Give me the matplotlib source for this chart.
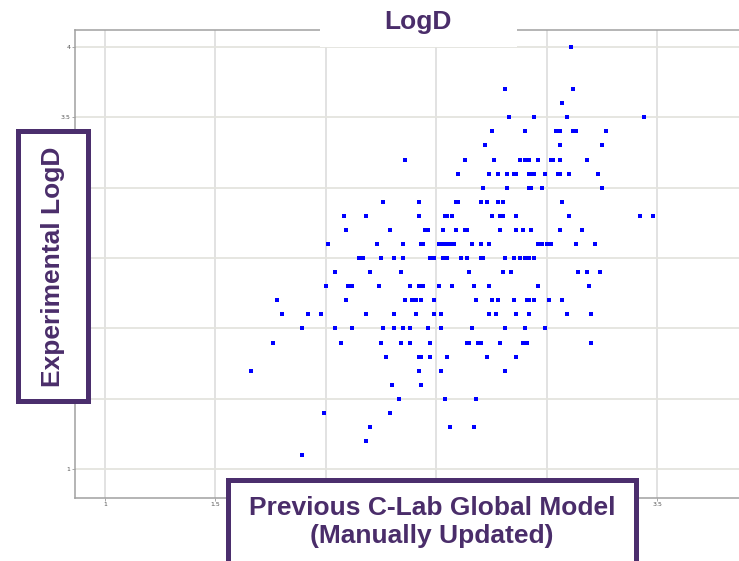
import matplotlib
matplotlib.use("Agg")
import matplotlib.pyplot as plt
from matplotlib.patches import Rectangle

# ---- data ----
exp_levels = [4.0, 3.7, 3.6, 3.5, 3.4, 3.3, 3.2, 3.1, 3.0, 2.9, 2.8, 2.7, 2.6, 2.5,
              2.4, 2.3, 2.2, 2.1, 2.0, 1.9, 1.8, 1.7, 1.6, 1.5, 1.4, 1.3, 1.2, 1.1]
pred_rows = [
    [3.11],
    [2.81, 3.12],
    [3.07],
    [2.83, 2.94, 3.09, 3.44],
    [2.75, 2.90, 3.04, 3.06, 3.12, 3.13, 3.27],
    [2.72, 3.06, 3.25],
    [2.36, 2.63, 2.76, 2.88, 2.90, 2.92, 2.96, 3.02, 3.03, 3.06, 3.18],
    [2.60, 2.74, 2.78, 2.82, 2.85, 2.86, 2.92, 2.93, 2.94, 2.99, 3.05, 3.06, 3.10, 3.23],
    [2.71, 2.82, 2.92, 2.93, 2.98, 3.25],
    [2.26, 2.42, 2.59, 2.60, 2.70, 2.73, 2.78, 2.80, 3.07],
    [2.08, 2.18, 2.42, 2.54, 2.55, 2.57, 2.75, 2.79, 2.80, 2.86, 3.10, 3.42, 3.48],
    [2.09, 2.29, 2.45, 2.46, 2.53, 2.59, 2.63, 2.64, 2.79, 2.86, 2.89, 2.93, 3.06, 3.16],
    [2.01, 2.23, 2.35, 2.43, 2.44, 2.51, 2.525, 2.54, 2.555, 2.57, 2.58, 2.66, 2.70,
     2.74, 2.96, 2.98, 3.00, 3.01, 3.02, 3.13, 3.22],
    [2.15, 2.17, 2.25, 2.31, 2.35, 2.47, 2.49, 2.53, 2.55, 2.61, 2.64, 2.70, 2.71,
     2.81, 2.85, 2.88, 2.90, 2.92, 2.94],
    [2.04, 2.20, 2.34, 2.65, 2.80, 2.84, 3.14, 3.18, 3.24],
    [2.00, 2.10, 2.12, 2.24, 2.38, 2.42, 2.44, 2.51, 2.57, 2.67, 2.74, 2.96, 3.19],
    [1.78, 2.09, 2.36, 2.39, 2.41, 2.43, 2.49, 2.68, 2.75, 2.78, 2.85, 2.91, 2.92,
     2.94, 3.01, 3.07],
    [1.80, 1.92, 1.98, 2.18, 2.31, 2.41, 2.49, 2.52, 2.74, 2.77, 2.86, 2.92, 3.09, 3.20],
    [1.89, 2.04, 2.12, 2.26, 2.31, 2.35, 2.38, 2.46, 2.52, 2.66, 2.81, 2.90, 2.99],
    [1.76, 2.07, 2.25, 2.34, 2.38, 2.47, 2.64, 2.65, 2.69, 2.70, 2.79, 2.89, 2.91, 3.20],
    [2.27, 2.42, 2.43, 2.47, 2.55, 2.73, 2.86],
    [1.66, 2.42, 2.52, 2.81],
    [2.30, 2.43],
    [2.33, 2.54, 2.68],
    [1.99, 2.29],
    [2.20, 2.56, 2.67],
    [2.18],
    [1.89],
]
x_ticks = [1, 1.5, 2, 2.5, 3, 3.5]
# labels 2, 2.5, 3 are hidden behind the x-label box in the reference
x_tick_labels = ["1", "1.5", "", "", "", "3.5"]
y_ticks = [1, 1.5, 2, 2.5, 3, 3.5, 4]
# labels 1.5 .. 3 are hidden behind the y-label box in the reference
y_tick_labels = ["1", "", "", "", "", "3.5", "4"]
title_text = "LogD"
ylabel_text = "Experimental LogD"
xlabel_text = "Previous C-Lab Global Model\n(Manually Updated)"

pred = []
expt = []
for lvl, row in zip(exp_levels, pred_rows):
    pred.extend(row)
    expt.extend([lvl] * len(row))

# ---- figure ----
W, H = 739, 561
fig = plt.figure(figsize=(W / 100, H / 100), dpi=100)
fig.patch.set_facecolor("white")

def fx(px):
    return px / W

def fy(py):
    return 1 - py / H

ax_l, ax_r, ax_t, ax_b = 74.7, 739, 30, 498.3
ax = fig.add_axes([fx(ax_l), fy(ax_b), fx(ax_r) - fx(ax_l), fy(ax_t) - fy(ax_b)])
ax.set_xlim(0.863, 3.87)
ax.set_ylim(0.794, 4.12)

ax.scatter(pred, expt, marker="s", s=8.5, color="#0000ff", linewidths=0, zorder=3)

ax.set_xticks(x_ticks)
ax.set_xticklabels(x_tick_labels)
ax.set_yticks(y_ticks)
ax.set_yticklabels(y_tick_labels)
ax.tick_params(axis="both", labelsize=4.5, labelcolor="#555555", color="#999999",
               length=2, width=0.6, pad=1)
ax.grid(True, axis="x", color="#dadada", linewidth=1.1, zorder=0)
ax.grid(True, axis="y", color="#e4e4de", linewidth=1.3, zorder=0)
ax.set_axisbelow(True)
for side in ["left", "bottom", "top"]:
    ax.spines[side].set_color("#a0a0a0")
    ax.spines[side].set_linewidth(1.1)
ax.spines["right"].set_visible(False)

purple = "#4b2e6d"
text_purple = "#4a2d6a"

# title box
fig.add_artist(Rectangle((fx(320), fy(47)), fx(517) - fx(320), fy(0) - fy(47),
                         transform=fig.transFigure, facecolor="white",
                         edgecolor="none", zorder=5))
fig.text(fx(418), fy(22), title_text, transform=fig.transFigure,
         ha="center", va="center", fontsize=19, fontweight="bold",
         family="Liberation Sans", color=text_purple, zorder=6)

# y label box
fig.add_artist(Rectangle((fx(17.5), fy(401)), fx(87.5) - fx(17.5), fy(131) - fy(401),
                         transform=fig.transFigure, facecolor="white",
                         edgecolor=purple, linewidth=3.6, zorder=5))
fig.text(fx(53), fy(267), ylabel_text, transform=fig.transFigure, rotation=90,
         ha="center", va="center", fontsize=19, fontweight="bold",
         family="Liberation Sans", color=text_purple, zorder=6)

# x label box
fig.add_artist(Rectangle((fx(228.5), fy(575)), fx(636) - fx(228.5), fy(480) - fy(575),
                         transform=fig.transFigure, facecolor="white",
                         edgecolor=purple, linewidth=3.6, zorder=5))
fig.text(fx(432), fy(522), xlabel_text, transform=fig.transFigure,
         ha="center", va="center", fontsize=19, fontweight="bold",
         family="Liberation Sans", color=text_purple, linespacing=1.2, zorder=6)

fig.savefig("out.png", dpi=100, facecolor="white")
